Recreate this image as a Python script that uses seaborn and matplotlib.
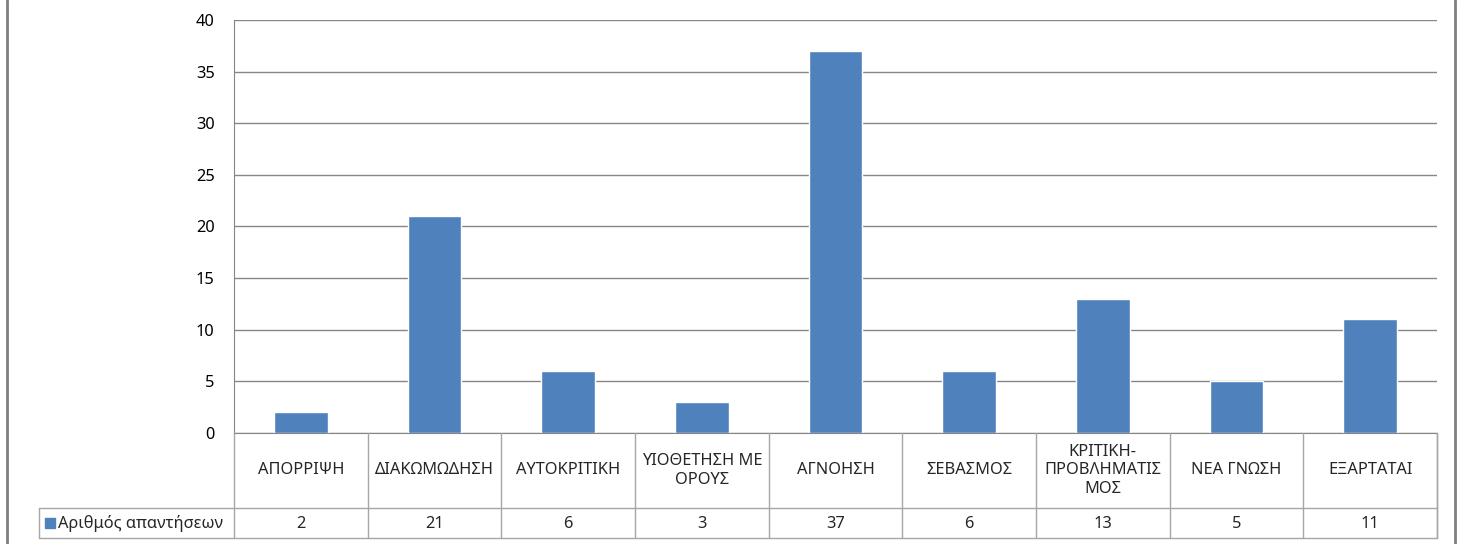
import numpy as np
import pandas as pd
import matplotlib
matplotlib.use("Agg")
import matplotlib.pyplot as plt
import seaborn as sns
from matplotlib.transforms import blended_transform_factory
from matplotlib.lines import Line2D
from matplotlib.patches import Rectangle

categories = ["ΑΠΟΡΡΙΨΗ", "ΔΙΑΚΩΜΩΔΗΣΗ", "ΑΥΤΟΚΡΙΤΙΚΗ", "ΥΙΟΘΕΤΗΣΗ ΜΕ\nΟΡΟΥΣ", "ΑΓΝΟΗΣΗ",
              "ΣΕΒΑΣΜΟΣ", "ΚΡΙΤΙΚΗ-\nΠΡΟΒΛΗΜΑΤΙΣ\nΜΟΣ", "ΝΕΑ ΓΝΩΣΗ", "ΕΞΑΡΤΑΤΑΙ"]
answers = [2, 21, 6, 3, 37, 6, 13, 5, 11]
series_name = "Αριθμός απαντήσεων"
y_ticks = [0, 5, 10, 15, 20, 25, 30, 35, 40]

bar_color = "#4F81BD"
line_color = "#868686"
table_color = "#A6A6A6"
fs = 11.8

sns.set_style("white")
plt.rcParams["font.family"] = ["Noto Sans", "DejaVu Sans"]

W, H = 1459, 544
fig = plt.figure(figsize=(W / 100, H / 100), dpi=100)

# plot area in pixels (left, top, right, bottom)
px_l, px_t, px_r, px_b = 234, 20, 1437, 433
ax = fig.add_axes([px_l / W, 1 - px_b / H, (px_r - px_l) / W, (px_b - px_t) / H])

df = pd.DataFrame({"cat": categories, "val": answers})
sns.barplot(data=df, x="cat", y="val", color=bar_color, width=0.4, saturation=1, ax=ax)

ax.set_ylim(0, 40)
ax.set_xlim(-0.5, len(categories) - 0.5)
ax.set_yticks(y_ticks)
ax.yaxis.grid(True, color=line_color, linewidth=1)
ax.set_axisbelow(True)
ax.set_xticks([])
ax.set_xlabel("")
ax.set_ylabel("")
ax.tick_params(axis="y", length=0, pad=14, labelsize=fs, colors="#000000")
for s in ["top", "right"]:
    ax.spines[s].set_visible(False)
ax.spines["left"].set_color(line_color)
ax.spines["bottom"].set_color(line_color)


def fy(py):
    return 1 - py / H


# data table below the plot
tr = blended_transform_factory(ax.transData, fig.transFigure)
row_mid = 508
row_bot = 538
n = len(categories)
for i in range(n + 1):
    fig.add_artist(Line2D([i - 0.5, i - 0.5], [fy(px_b), fy(row_bot)], transform=tr,
                          color=table_color, lw=1))
for yy in [row_mid, row_bot]:
    fig.add_artist(Line2D([-0.5, n - 0.5], [fy(yy), fy(yy)], transform=tr,
                          color=table_color, lw=1))
    fig.add_artist(Line2D([39 / W, px_l / W], [fy(yy), fy(yy)], color=table_color, lw=1))
fig.add_artist(Line2D([n - 0.5, n - 0.5], [fy(px_b), fy(row_bot)], transform=tr,
                      color=table_color, lw=1))
fig.add_artist(Line2D([39 / W, 39 / W], [fy(row_mid), fy(row_bot)], color=table_color, lw=1))

for i, (c, v) in enumerate(zip(categories, answers)):
    t = fig.text(i, fy((px_b + row_mid) / 2), c, ha="center", va="center",
                 fontsize=fs, linespacing=1.2)
    t.set_transform(tr)
    t2 = fig.text(i, fy((row_mid + row_bot) / 2 + 1), str(v), ha="center", va="center", fontsize=fs)
    t2.set_transform(tr)

fig.add_artist(Rectangle((45 / W, fy(528)), 10 / W, 10 / H, color=bar_color, transform=fig.transFigure))
fig.text(58 / W, fy((row_mid + row_bot) / 2 + 1), series_name, ha="left", va="center", fontsize=fs)

# outer chart border
fig.add_artist(Line2D([7 / W, 7 / W], [0, 1], color="#7F7F7F", lw=2))
fig.add_artist(Line2D([1455 / W, 1455 / W], [0, 1], color="#7F7F7F", lw=2))

fig.savefig("out.png", dpi=100)
